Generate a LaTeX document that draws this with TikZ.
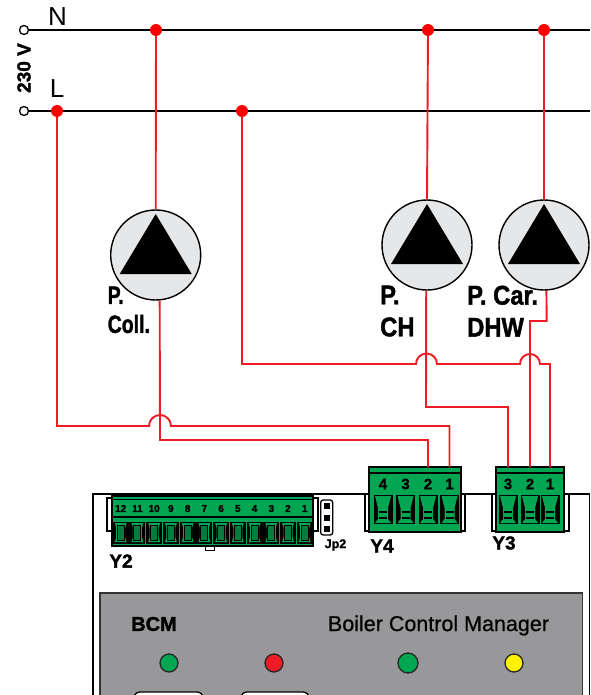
\documentclass[tikz,border=0pt]{standalone}
\usepackage{fontspec}
\setmainfont{Liberation Sans}
\newfontfamily\heavyfont[BoldFeatures={FakeBold=1.6}]{Liberation Sans}
\newfontfamily\mediumfont[FakeBold=.5]{Liberation Sans}
\usepackage{xcolor}
\definecolor{wirered}{RGB}{237,28,36}
\definecolor{termgreen}{RGB}{0,166,81}
\definecolor{pumpgrey}{RGB}{230,231,232}
\definecolor{panelgrey}{RGB}{152,152,154}
\usetikzlibrary{positioning}
\newcommand{\narrowtxt}[1]{\scalebox{.78}[1]{#1}}
\newcommand{\widertxt}[1]{\scalebox{.88}[1]{#1}}
\tikzset{main dot/.style={circle,fill=red,minimum size=12pt,inner sep=0pt},
	end node/.style={circle,fill=white,draw=black,line width=1.3pt,minimum size=9pt,inner sep=0pt},
	pump node/.style={circle,draw=black,fill=pumpgrey,line width=1.4pt,minimum size=90pt,inner sep=0pt,
		path picture={\fill[black] ([shift={(0,-41)}]path picture bounding box.center) -- ([shift={(36,19)}]path picture bounding box.center) -- ([shift={(-36,19)}]path picture bounding box.center) -- cycle;}},
	pump label/.style={align=left,anchor=north west,inner sep=0pt,font=\heavyfont\bfseries\fontsize{25}{31}\selectfont},
	wide label/.style={pump label,font=\heavyfont\bfseries\fontsize{27}{32}\selectfont},
	wire/.style={draw=wirered,line width=1.9pt},
	term body/.style={draw=black,fill=termgreen,line width=1.4pt,inner sep=0pt},
	flap/.style={draw=black,fill=white,line width=1.2pt},
	term num/.style={inner sep=0pt,font=\heavyfont\bfseries\fontsize{15}{15}\selectfont},
	small num/.style={inner sep=0pt,font=\heavyfont\bfseries\fontsize{10}{10}\selectfont},
	term name/.style={inner sep=0pt,font=\heavyfont\bfseries\fontsize{19}{19}\selectfont},
	led/.style={circle,draw=black!85,line width=1.3pt,minimum size=18pt,inner sep=0pt},
	bigscrew/.pic={
		\fill[black] (-9.5,0) rectangle (9.5,29);
		\fill[termgreen] (-8,1) -- (8,1) -- (5,13) -- (5,24) -- (8,28) -- (-8,28) -- (-5,24) -- (-5,13) -- cycle;
		\fill[black] (-4,16) rectangle (4,17.5);
		\fill[black] (-4,22) rectangle (4,23.5);
	},
	smallscrew/.pic={
		\fill[black] (-8,0) rectangle (8,22);
		\fill[termgreen] (-6,1.5) -- (6,1.5) -- (4.5,6) -- (4.5,16) -- (6,20.5) -- (-6,20.5) -- (-4.5,16) -- (-4.5,6) -- cycle;
		\draw[black,line width=1pt,fill=termgreen!75!black] (-3.5,4) rectangle (3.5,18.5);
	},
}
\begin{document}
\begin{tikzpicture}[x=1pt,y=-1pt]
	\useasboundingbox (0,0) rectangle (590,695);

	% mains
	\node[end node] (nend) at (24,30) {};
	\node[end node] (lend) at (24,111) {};
	\coordinate (nright) at (590,30);
	\coordinate (lright) at (590,111);
	\draw[line width=1.4pt] (nend) -- (nright);
	\draw[line width=1.4pt] (lend) -- (lright);
	\node[inner sep=0pt,font=\fontsize{26}{26}\selectfont] (nname) at (57.5,17) {N};
	\node[inner sep=0pt,font=\fontsize{26}{26}\selectfont] (lname) at (57,88.5) {L};
	\node[inner sep=0pt,rotate=90,font=\heavyfont\bfseries\fontsize{19}{19}\selectfont] (volt) at (24,68) {230 V};

	\node[main dot] (dotn1) at (156,30) {};
	\node[main dot] (dotn2) at (428,30) {};
	\node[main dot] (dotn3) at (544,30) {};
	\node[main dot] (dotl1) at (57,111) {};
	\node[main dot] (dotl2) at (242,111) {};

	% pumps
	\node[pump node] (coll) at (155.7,255) {};
	\node[pump node] (ch) at (427,245) {};
	\node[pump node] (car) at (544,245) {};
	\node[pump label] (colltxt) at (107.5,286.5) {\narrowtxt{P.}\\[-2pt]\narrowtxt{Coll.}};
	\node[wide label] (chtxt) at (380,285.5) {\widertxt{P.}\\\widertxt{CH}};
	\node[wide label] (cartxt) at (467,285.5) {\widertxt{P. Car.}\\\widertxt{DHW}};

	% board
	\draw[line width=1.3pt] (93,695) -- (93,494) -- (589.5,494) -- (589.5,695);
	\draw[draw=black!80,fill=panelgrey,line width=1.3pt] (100,695) -- (100,593) -- (582.5,593) -- (582.5,695);

	% Y2
	\draw[flap] (107,498) rectangle (318,531);
	\draw[black,fill=white,line width=.9pt] (205,544) rectangle (214.5,550);
	\node[term body,minimum width=201pt,minimum height=50pt] (y2) at (212.5,521) {};
	\draw[black,line width=1.2pt] (112,499.5) -- (313,499.5);
	\draw[black,line width=1.2pt] (112,517) -- (313,517);
	\foreach \n [count=\i from 0] in {12,11,10,9,8,7,6,5,4,3,2,1}
		{
		\node[small num] (y2n\n) at (120.7+16.73*\i,508.5) {\n};
		\path (120.7+16.73*\i,521.5) pic {smallscrew};
		}
	\node[term name] (y2name) at (121,561) {Y2};

	% Jp2
	\node[draw=black,fill=white,rounded corners=2.5pt,line width=1.3pt,minimum width=12pt,minimum height=35pt,inner sep=0pt] (jp) at (326.7,517.5) {};
	\foreach \y in {506,517.5,529}
		\fill[black] (323.5,\y-3) rectangle (330,\y+3);
	\node[inner sep=0pt,font=\heavyfont\bfseries\fontsize{12.5}{12.5}\selectfont] (jpname) at (335.5,545) {Jp2};

	% Y4 and Y3
	\draw[flap] (365,494) rectangle (465,531);
	\draw[flap] (492,494) rectangle (569,531);
	\node[term body,minimum width=92pt,minimum height=65pt] (y4) at (415,499.5) {};
	\node[term body,minimum width=68pt,minimum height=65pt] (y3) at (530,499.5) {};
	\draw[black,line width=1.4pt] (369,473) -- (461,473);
	\draw[black,line width=1.4pt] (496,473) -- (564,473);
	\foreach \n/\x in {4/383,3/405.5,2/428,1/449.5}
		{
		\node[term num] (y4n\n) at (\x,484) {\n};
		\coordinate (y4p\n) at (\x,467);
		\path (\x,495) pic {bigscrew};
		}
	\foreach \n/\x in {3/508,2/530,1/550}
		{
		\node[term num] (y3n\n) at (\x,484) {\n};
		\coordinate (y3p\n) at (\x,467);
		\path (\x,495) pic {bigscrew};
		}
	\node[term name] (y4name) at (382,546) {Y4};
	\node[term name] (y3name) at (504,543) {Y3};

	% wires
	\path[wire]
	(dotn1) -- (coll.north)
	(dotn2) -- (ch.north)
	(dotn3) -- (car.north);
	\draw[wire] (dotl1) -- (57,426) -- (149,426) arc[start angle=180,end angle=0,radius=11pt] -- (449.5,426) -- (y4p1);
	\draw[wire] (coll.-85) -- (160,440) -- (428,440) -- (y4p2);
	\draw[wire] (dotl2) -- (242,364) -- (416,364) arc[start angle=180,end angle=0,radius=10.5pt] -- (520,364) arc[start angle=180,end angle=0,radius=10pt] -- (550,364) -- (y3p1);
	\draw[wire] (ch.-91) -- (426,407) -- (508,407) -- (y3p3);
	\draw[wire] (car.-87) -- (546.7,321) -- (530,321) -- (y3p2);

	% panel
	\node[inner sep=0pt,font=\heavyfont\bfseries\fontsize{20}{20}\selectfont] (bcm) at (154,624) {BCM};
	\node[inner sep=0pt,font=\mediumfont\fontsize{21.5}{21.5}\selectfont] (bcmlong) at (438.5,625.5) {Boiler Control Manager};
	\node[led,fill=termgreen] (led1) at (169,663) {};
	\node[led,fill=wirered] (led2) at (274,663) {};
	\node[led,fill=termgreen,minimum size=20pt] (led3) at (408,663) {};
	\node[led,fill=yellow] (led4) at (514,663) {};
	\draw[fill=white,line width=1.3pt,rounded corners=6pt] (134,702) -- (134,692) -- (203,692) -- (203,702);
	\draw[fill=white,line width=1.3pt,rounded corners=6pt] (241,702) -- (241,692) -- (309,692) -- (309,702);
\end{tikzpicture}
\end{document}
